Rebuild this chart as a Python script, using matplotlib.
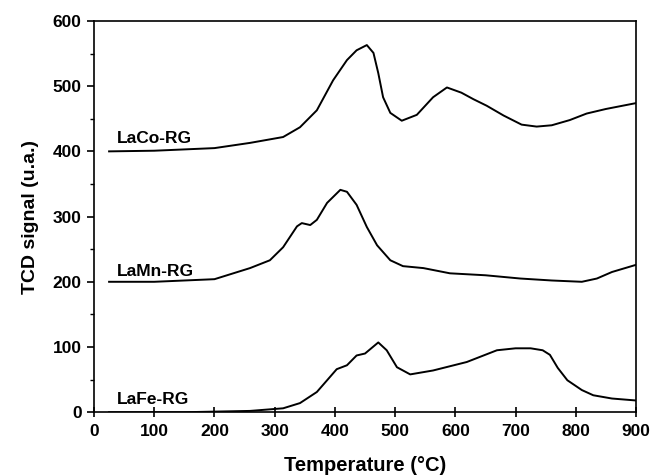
import matplotlib
matplotlib.use("Agg")
import matplotlib.pyplot as plt
from matplotlib.ticker import MultipleLocator

plt.rcParams['font.family'] = ['Liberation Sans', 'DejaVu Sans']
plt.rcParams['font.weight'] = 'bold'

laco_T = [25, 100, 200, 259, 314, 342, 370, 397, 420, 436, 453, 464, 472, 480, 492, 511, 536, 563, 586, 610, 630, 652, 680, 710, 735, 760, 790, 818, 850, 900]
laco_v = [400, 401, 405, 413, 422, 437, 463, 509, 540, 555, 563, 551, 520, 483, 459, 447, 456, 483, 498, 490, 480, 470, 455, 441, 438, 440, 448, 458, 465, 474]

lamn_T = [25, 100, 200, 259, 292, 314, 337, 345, 359, 370, 387, 409, 420, 436, 453, 470, 492, 513, 547, 591, 650, 708, 760, 810, 835, 860, 900]
lamn_v = [200, 200, 204, 221, 233, 253, 285, 290, 287, 295, 321, 341, 338, 318, 284, 256, 233, 224, 221, 213, 210, 205, 202, 200, 205, 215, 226]

lafe_T = [25, 150, 259, 314, 342, 370, 387, 403, 420, 436, 450, 472, 486, 503, 525, 563, 619, 669, 700, 725, 745, 757, 770, 786, 810, 829, 860, 900]
lafe_v = [0, 0, 2, 6, 14, 31, 49, 66, 72, 87, 90, 107, 95, 69, 58, 64, 77, 95, 98, 98, 95, 88, 68, 49, 34, 26, 21, 18]

labels = ["LaCo-RG", "LaMn-RG", "LaFe-RG"]
label_y = [420, 216, 20]

fig = plt.figure(figsize=(6.53, 4.76), dpi=100)
ax = fig.add_axes([0.144, 0.134, 0.830, 0.822])

for T, v in [(laco_T, laco_v), (lamn_T, lamn_v), (lafe_T, lafe_v)]:
    ax.plot(T, v, color='black', lw=1.4, solid_joinstyle='round')

for lab, y in zip(labels, label_y):
    ax.text(38, y, lab, fontsize=12.5, fontweight='bold', ha='left', va='center')

ax.set_xlim(0, 900)
ax.set_ylim(0, 600)
ax.xaxis.set_major_locator(MultipleLocator(100))
ax.yaxis.set_major_locator(MultipleLocator(100))
ax.yaxis.set_minor_locator(MultipleLocator(50))
ax.tick_params(axis='both', which='major', length=5, width=1.2, labelsize=12.5)
ax.tick_params(axis='x', which='major', direction='inout', length=7, pad=5)
ax.tick_params(axis='y', which='major', direction='out', pad=4)
ax.tick_params(axis='y', which='minor', direction='out', length=3, width=1.0)
for lab in ax.get_xticklabels() + ax.get_yticklabels():
    lab.set_fontweight('bold')
for s in ax.spines.values():
    s.set_linewidth(1.2)

ax.set_xlabel("Temperature (°C)", fontsize=14.5, fontweight='bold', labelpad=12)
ax.set_ylabel("TCD signal (u.a.)", fontsize=14, fontweight='bold', labelpad=10)

fig.savefig("out.png", dpi=100)
